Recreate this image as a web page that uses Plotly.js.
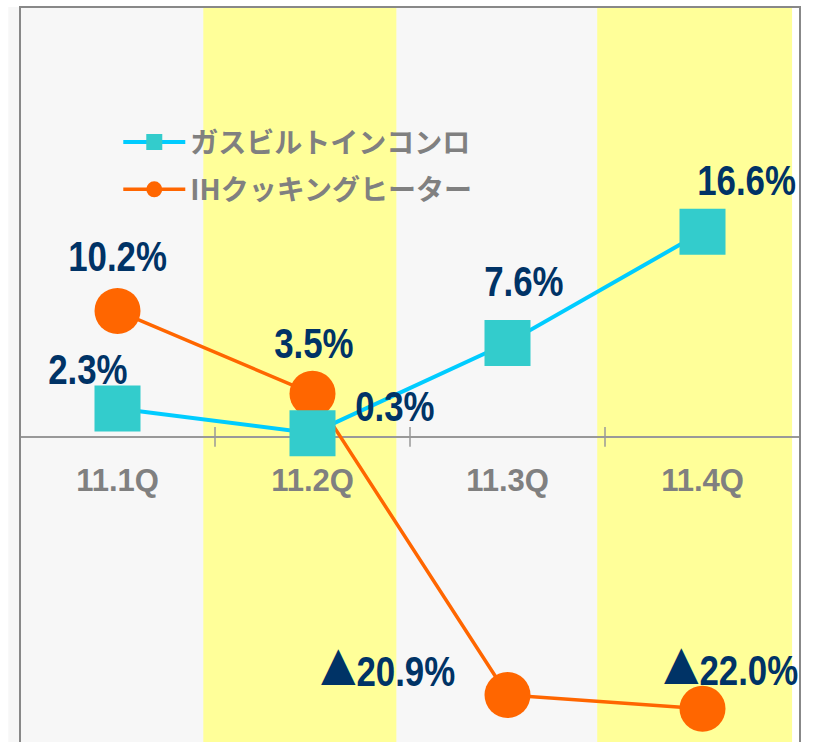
<!DOCTYPE html>
<html>
<head>
<meta charset="utf-8">
<script src="https://cdn.plot.ly/plotly-3.0.1.min.js"></script>
<style>
html,body{margin:0;padding:0;background:#fff;}
#chart{width:813px;height:742px;}
#chart .annotation-text{transform-box:fill-box;transform-origin:center;transform:scaleX(0.83);}
</style>
</head>
<body>
<div id="chart"></div>
<script>
// ---- data ----
const categories = ["11.1Q", "11.2Q", "11.3Q", "11.4Q"];
const gasName = "ガスビルトインコンロ";
const ihName = "IHクッキングヒーター";
const gasValues = [2.3, 0.3, 7.6, 16.6];
const ihValues = [10.2, 3.5, -20.9, -22.0];

// label offsets (pixels) relative to each marker
const gasLabelShift = [[-30, 39], [82, 27], [16, 62], [44, 51]];
const ihLabelShift = [[0, 54], [1, 50], [-120, 28], [28, 43]];

function fmt(v) {
  const num = "<b>" + Math.abs(v).toFixed(1) + "%</b>";
  return v < 0 ? "<span style=\"font-family:'Noto Sans CJK JP';font-size:44px\">▲</span>" + num : num;
}

const yMin = -24.7, yMax = 34.8;
const zeroPos = (0 - yMin) / (yMax - yMin);

const traces = [
  {
    x: categories, y: ihValues, name: ihName, type: "scatter", mode: "lines+markers",
    legendgroup: "ih", legendrank: 2,
    line: {color: "#ff6600", width: 3.5},
    marker: {symbol: "circle", size: 46, color: "#ff6600"}
  },
  {
    x: categories, y: gasValues, name: gasName, type: "scatter", mode: "lines+markers",
    legendgroup: "gas", legendrank: 1,
    line: {color: "#00ccff", width: 4},
    marker: {symbol: "square", size: 46, color: "#33cccc"}
  }
];

const labelFont = {family: "'Liberation Sans', Arial, sans-serif", size: 42, color: "#003366", weight: "bold"};
const annotations = [];
categories.forEach((c, i) => {
  annotations.push({x: c, y: gasValues[i], text: fmt(gasValues[i]), showarrow: false,
    xshift: gasLabelShift[i][0], yshift: gasLabelShift[i][1], font: labelFont, xanchor: "center", yanchor: "middle"});
  annotations.push({x: c, y: ihValues[i], text: fmt(ihValues[i]), showarrow: false,
    xshift: ihLabelShift[i][0], yshift: ihLabelShift[i][1], font: labelFont, xanchor: "center", yanchor: "middle"});
});

const shapes = [
  {type: "rect", layer: "below", xref: "x", yref: "paper", x0: 0.44, x1: 1.43, y0: 0, y1: 1, fillcolor: "#ffff99", line: {width: 0}},
  {type: "rect", layer: "below", xref: "x", yref: "paper", x0: 2.46, x1: 3.46, y0: 0, y1: 1, fillcolor: "#ffff99", line: {width: 0}},
  {type: "rect", layer: "below", xref: "x", yref: "paper", x0: 3.46, x1: 3.5, y0: 0, y1: 1, fillcolor: "#ffffff", line: {width: 0}},
  {type: "rect", layer: "below", xref: "paper", yref: "paper", x0: -0.015, x1: 0, y0: 0, y1: 1, fillcolor: "#f7f7f7", line: {width: 0}},
  {type: "rect", layer: "above", xref: "paper", yref: "paper", x0: 0, x1: 1, y0: -0.02, y1: 1, fillcolor: "rgba(0,0,0,0)", line: {color: "#888888", width: 2}}
];
for (let i = 0; i < categories.length - 1; i++) {
  shapes.push({type: "line", layer: "above", xref: "x", yref: "y", x0: i + 0.5, x1: i + 0.5, y0: -0.8, y1: 0.8, line: {color: "#999999", width: 1.5}});
}

const layout = {
  width: 813, height: 742,
  margin: {l: 20, r: 13, t: 7, b: 0},
  paper_bgcolor: "#ffffff",
  plot_bgcolor: "#f7f7f7",
  showlegend: true,
  legend: {
    x: 0.126, y: 0.85, xanchor: "left", yanchor: "top",
    bgcolor: "rgba(0,0,0,0)",
    traceorder: "grouped",
    tracegroupgap: 8,
    itemwidth: 62,
    font: {family: "'Noto Sans CJK JP', 'Noto Sans', sans-serif", size: 28, color: "#808080", weight: "bold"}
  },
  xaxis: {
    type: "category", range: [-0.5, 3.5],
    anchor: "free", position: zeroPos,
    showline: false, showgrid: false, zeroline: false, ticks: "",
    ticklabelstandoff: 22,
    tickfont: {family: "'Liberation Sans', Arial, sans-serif", size: 31, color: "#808080", weight: "bold"},
    fixedrange: true
  },
  yaxis: {
    range: [yMin, yMax], showgrid: false, showticklabels: false, ticks: "",
    zeroline: true, zerolinecolor: "#999999", zerolinewidth: 1.5,
    fixedrange: true
  },
  shapes: shapes,
  annotations: annotations
};

Plotly.newPlot("chart", traces, layout, {displayModeBar: false, staticPlot: true});
</script>
</body>
</html>
